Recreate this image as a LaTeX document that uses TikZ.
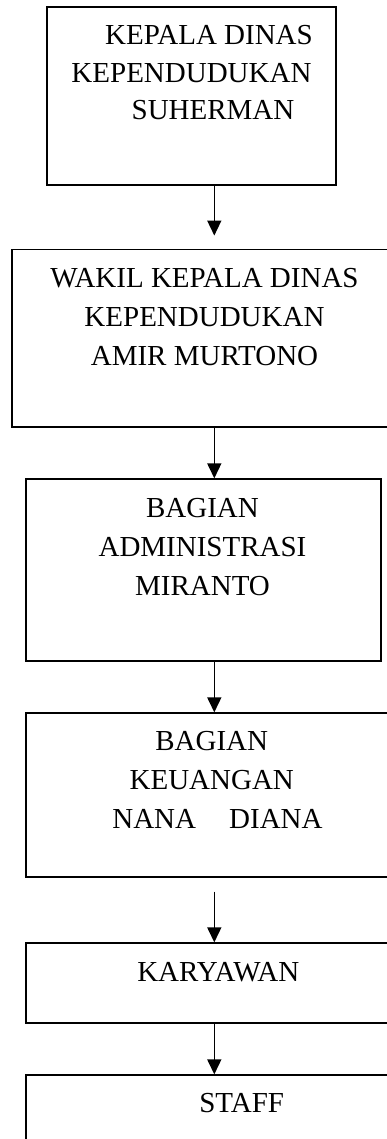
\documentclass[tikz,border=0pt]{standalone}
\usepackage{fontspec}
\setmainfont{Liberation Serif}
\usepackage{tikz}
\usetikzlibrary{arrows.meta}
\usetikzlibrary{positioning}

\tikzset{
    kotak/.style={draw, line width=1.9pt, inner sep=0pt},
    teks/.style={align=center, inner sep=0pt, font=\fontsize{29}{39}\selectfont},
    panah/.style={line width=1.6pt, -{Triangle[length=15pt, width=14pt]}}
}

\begin{document}
\begin{tikzpicture}[x=1pt, y=-1pt]
    \useasboundingbox (0, 0) rectangle (387, 1139);
    \clip (0, 0) rectangle (387, 1139);

    \node [kotak, minimum width=289.3pt, minimum height=178.3pt] (kepala) at (191.35, 95.85) {};
    \node [kotak, minimum width=387.7pt, minimum height=177.2pt] (wakil) at (206.15, 338.1) {};
    \node [kotak, minimum width=354.7pt, minimum height=181.7pt] (admin) at (203.35, 570.15) {};
    \node [kotak, minimum width=374pt, minimum height=164pt] (keuangan) at (213, 795.3) {};
    \node [kotak, minimum width=374pt, minimum height=80pt] (karyawan) at (213, 983.3) {};
    \node [kotak, minimum width=374.3pt, minimum height=104.7pt] (staff) at (212.85, 1127.65) {};

    \node [teks] (kepalaTeks) at (191.5, 73) {\hspace*{35pt}KEPALA DINAS\\[-1.5pt] KEPENDUDUKAN\\[-1.5pt] \hspace*{43pt}SUHERMAN};
    \node [teks] (wakilTeks) at (204.5, 316.7) {WAKIL KEPALA DINAS\\ KEPENDUDUKAN\\ AMIR MURTONO};
    \node [teks] (adminTeks) at (202.5, 546.7) {BAGIAN\\ ADMINISTRASI\\ MIRANTO};
    \node [teks] (keuanganTeks) at (211.75, 780) {BAGIAN\\ KEUANGAN\\ \hspace*{11.5pt}NANA\hspace{1.14em}DIANA};
    \node [teks] (karyawanTeks) at (218.3, 971.7) {KARYAWAN};
    \node [teks] (staffTeks) at (241.7, 1103.3) {STAFF};

    \coordinate (poros) at (214.3, 0);
    \coordinate (ujungA) at ([yshift=13pt] wakil.north -| poros);
    \coordinate (pangkalB) at ([yshift=-13.4pt] keuangan.south -| poros);

    \draw [panah] (kepala.south -| poros) -- (ujungA);
    \draw [panah] (wakil.south -| poros) -- (admin.north -| poros);
    \draw [panah] (admin.south -| poros) -- (keuangan.north -| poros);
    \draw [panah] (pangkalB) -- (karyawan.north -| poros);
    \draw [panah] (karyawan.south -| poros) -- (staff.north -| poros);
\end{tikzpicture}
\end{document}
